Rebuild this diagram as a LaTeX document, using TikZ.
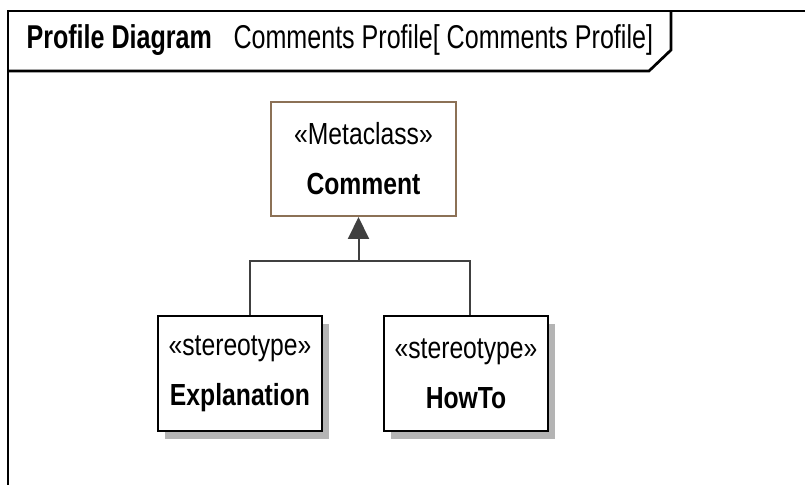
\documentclass[tikz,border=0pt]{standalone}
\usepackage{fontspec}
\setmainfont{Liberation Sans}[FakeStretch=0.81]
\newfontfamily\headfont{Liberation Sans}[FakeStretch=0.76]
\usetikzlibrary{arrows.meta,shadows}

\definecolor{metabrown}{RGB}{140,113,86}
\definecolor{linegray}{RGB}{64,64,64}
\definecolor{shadowgray}{RGB}{180,180,180}

\tikzset{
    frameline/.style={line width=2.7pt},
    headtext/.style={font=\headfont\fontsize{33}{40}\selectfont},
    bigtext/.style={font=\fontsize{30.5}{50}\selectfont},
    stereobox/.style={draw, line width=2pt, fill=white, bigtext, align=center,
        minimum width=164pt, minimum height=115pt,
        drop shadow={shadow xshift=7pt, shadow yshift=-8pt, fill=shadowgray, opacity=1}},
    metabox/.style={draw=metabrown, line width=2pt, fill=white, bigtext, align=center,
        minimum width=185pt, minimum height=114pt},
    genline/.style={draw=linegray, line width=2pt}
}

\begin{document}
\begin{tikzpicture}[x=1pt, y=1pt]
    \useasboundingbox (0,0) rectangle (805,485);

    % Draw the frame and its tab
    \draw[frameline] (805,474) -- (8,474) -- (8,0);
    \draw[frameline] (8,414) -- (649,414) -- (671,435) -- (671,474);
    \node[headtext, anchor=base west] (kind) at (23,436) {\textbf{Profile Diagram}};
    \node[headtext, anchor=base west] (title) at (230,436) {Comments Profile[ Comments Profile]};

    % Draw the metaclass and the stereotypes
    \node[metabox] (comment) at (363.5,326) {«Metaclass»\\\textbf{Comment}};
    \node[stereobox] (explanation) at (240,111.5) {«stereotype»\\\textbf{Explanation}};
    \node[stereobox] (howto) at (466,111.5) {«stereotype»\\\textbf{HowTo}};

    % Draw the generalization
    \coordinate (join) at (358.5,224);
    \draw[genline] ([xshift=10pt]explanation.north) |- (join) -| ([xshift=4pt]howto.north);
    \draw[genline, -{Triangle[width=21pt, length=22pt]}, fill=linegray] (join) -- (join |- comment.south);
\end{tikzpicture}
\end{document}
